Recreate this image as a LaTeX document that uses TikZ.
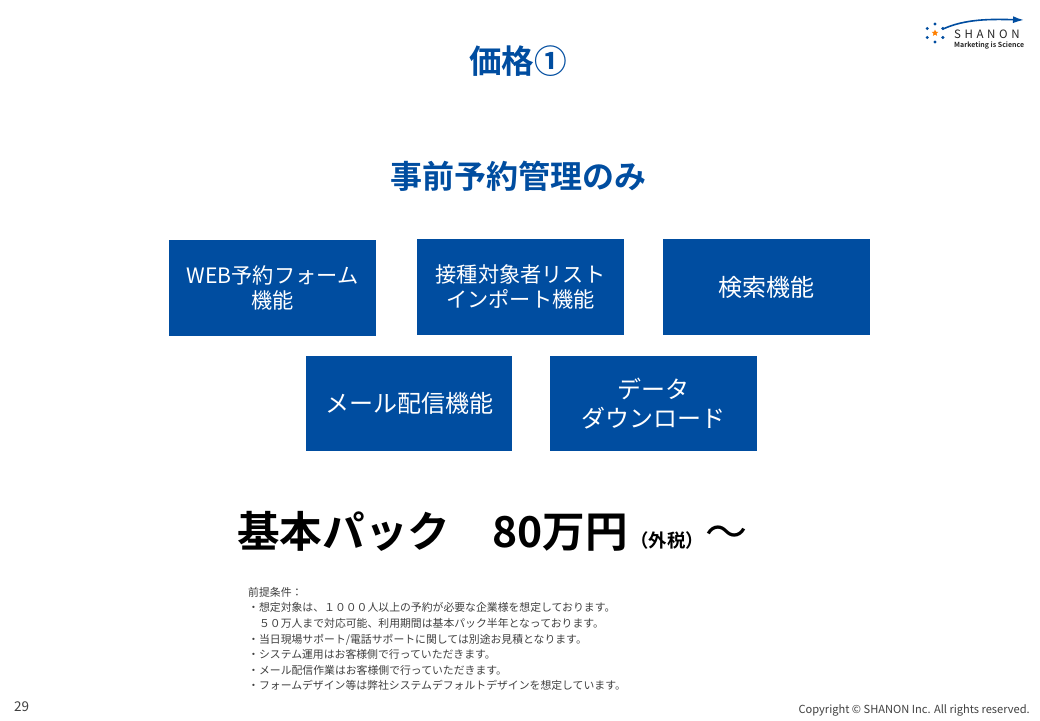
\documentclass[tikz,border=0pt]{standalone}
\usepackage{fontspec}
\setmainfont{Noto Sans CJK JP}[BoldFont={Noto Sans CJK JP Bold}]
\usepackage{xcolor}
\definecolor{shanonblue}{HTML}{004DA0}
\usetikzlibrary{shapes.geometric}
\usetikzlibrary{calc}
\usetikzlibrary{arrows.meta}
\tikzset{featurebox/.style={shape=rectangle, fill=shanonblue, text=white, minimum width=207pt, minimum height=96pt, inner sep=0pt, align=center, font=\fontsize{21.2}{25}\selectfont}}
\tikzset{widebox/.style={featurebox, font=\fontsize{24}{29}\selectfont}}
\tikzset{logodot/.style={shape=circle, fill=shanonblue, inner sep=0pt, minimum size=3.4pt}}

\begin{document}
\begin{tikzpicture}[x=1pt, y=-1pt]
		\useasboundingbox[fill=white] (0,0) rectangle (1040,720);
		\node[text=shanonblue, font=\fontsize{32.6}{38}\bfseries\selectfont] (title) at (518,61) {価格①};
		\node[text=shanonblue, font=\fontsize{32}{38}\bfseries\selectfont] (subtitle) at (518,176) {事前予約管理のみ};
		\node[style=featurebox] (web) at (272.5,288) {WEB予約フォーム\\機能};
		\node[style=featurebox] (list) at (520.5,287) {接種対象者リスト\\インポート機能};
		\node[style=widebox] (search) at (766.5,287) {検索機能};
		\node[style=widebox, minimum width=206pt, minimum height=95pt] (mail) at (409,403.5) {メール配信機能};
		\node[style=widebox, minimum height=95pt] (data) at (653.5,403.5) {データ\\ダウンロード};
		\node[anchor=base west, inner sep=0pt, font=\fontsize{42.6}{50}\bfseries\selectfont] (price) at (237,547) {基本パック\hspace{42pt}80万円};
		\node[anchor=base west, inner sep=0pt, font=\fontsize{18.4}{22}\bfseries\selectfont] (tax) at (630,547) {（外税）};
		\node[anchor=base west, inner sep=0pt, font=\fontsize{42}{50}\selectfont] (tilde) at (705,547) {～};
		\node[anchor=north west, inner sep=0pt, align=left, text=black!75, font=\fontsize{10.85}{15.6}\selectfont] (notes) at (248,587) {前提条件：\\
		・想定対象は、１０００人以上の予約が必要な企業様を想定しております。\\
		\hspace{10.85pt}５０万人まで対応可能、利用期間は基本パック半年となっております。\\
		・当日現場サポート/電話サポートに関しては別途お見積となります。\\
		・システム運用はお客様側で行っていただきます。\\
		・メール配信作業はお客様側で行っていただきます。\\
		・フォームデザイン等は弊社システムデフォルトデザインを想定しています。};
		\node[anchor=base west, inner sep=0pt, text=black!75, font=\fontsize{13.5}{16}\selectfont] (page) at (14,711) {29};
		\node[anchor=base east, inner sep=0pt, text=black!75, font=\fontsize{11.1}{13}\selectfont] (copyright) at (1030,713) {Copyright © SHANON Inc. All rights reserved.};
		% logo
		\node[anchor=base west, inner sep=0pt, text=black!85, font=\fontsize{11.5}{13}\selectfont] (shanon) at (954,38) {S\hspace{3.6pt}H\hspace{3.6pt}A\hspace{3.6pt}N\hspace{3.6pt}O\hspace{3.6pt}N};
		\node[anchor=base west, inner sep=0pt, text=black!85, font=\fontsize{7}{8}\bfseries\selectfont] (science) at (954,47) {Marketing is Science};
		\node[shape=star, star points=5, star point ratio=2.2, fill=orange, inner sep=0pt, minimum size=7pt] (star) at (935,33) {};
		\foreach \a in {0,60,...,300}
			\node[style=logodot] (dot\a) at ($(935,33)+(\a+30:9pt)$) {};
		\coordinate (start) at (943,29);
		\coordinate (tip) at (1024,20);
		\draw[shanonblue, line width=1.6pt, -{Latex[length=11pt,width=7pt]}] (start) .. controls (965,19) and (990,19) .. (tip);
	\end{tikzpicture}
\end{document}
